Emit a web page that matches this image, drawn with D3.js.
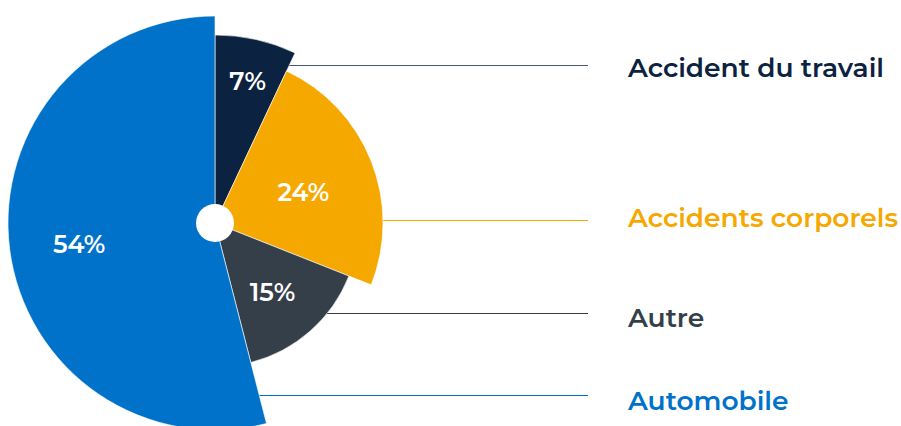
<!DOCTYPE html>
<html>
<head>
<meta charset="utf-8">
<script src="https://cdn.jsdelivr.net/npm/d3@7"></script>
<style>
  body { margin: 0; background: #ffffff; }
  svg { display: block; }
</style>
</head>
<body>
<div id="chart"></div>
<script>
var w = 901
var h = 426

var categories = [ "Accident du travail", "Accidents corporels", "Autre", "Automobile" ];
var values = [ 7, 24, 15, 54 ];
//              Navy       Orange     Grey       Blue
var colors = [ "#0b2240", "#f5a800", "#343f4a", "#0072c9" ];

// layout only
var cx = 215, cy = 223;
var outerR = [ 188, 168, 144, 207 ];
var labelR = [ 149, 95, 87, 137 ];
var lineY = [ 65, 220, 313, 395 ];
var textY = [ 67, 217, 317, 400 ];
var lineEnd = 588, legendX = 628;

var svg = d3.select("#chart").append("svg")
    .attr("width", w)
    .attr("height", h);

var myPie = d3.pie()
    .sort(null)
    .value(function(d) { return d; });

var slices = myPie(values);

// leader lines sit behind the pie
svg.selectAll("line.leader").data(categories).enter()
  .append("line")
    .attr("class", "leader")
    .attr("x1", cx)
    .attr("x2", lineEnd)
    .attr("y1", function(d, i) { return lineY[i] + 0.5; })
    .attr("y2", function(d, i) { return lineY[i] + 0.5; })
    .attr("stroke", function(d, i) { return i == 0 ? "#4a5873" : colors[i]; })
    .attr("stroke-width", 1);

var g = svg.append("g")
    .attr("transform", "translate(" + cx + "," + cy + ")");

var myArc = d3.arc()
    .innerRadius(0)
    .outerRadius(function(d) { return outerR[d.index]; });

g.selectAll("path.slice").data(slices).enter()
  .append("path")
    .attr("class", "slice")
    .attr("fill", function(d, i) { return colors[i]; })
    .attr("stroke", "#ffffff")
    .attr("stroke-width", 0.6)
    .attr("d", myArc);

g.append("circle")
    .attr("r", 19)
    .attr("fill", "#ffffff");

g.selectAll("text.pct").data(slices).enter()
  .append("text")
    .attr("class", "pct")
    .attr("transform", function(d) {
      var a = (d.startAngle + d.endAngle) / 2;
      var r = labelR[d.index];
      return "translate(" + (r * Math.sin(a)) + "," + (-r * Math.cos(a)) + ")";
    })
    .attr("text-anchor", "middle")
    .attr("dy", ".5em")
    .style("fill", "#ffffff")
    .style("font-family", "Montserrat, Inter, 'Open Sans', sans-serif")
    .style("font-weight", 600)
    .style("font-size", "25px")
    .text(function(d) { return d.data + "%"; });

svg.selectAll("text.legend").data(categories).enter()
  .append("text")
    .attr("class", "legend")
    .attr("x", legendX)
    .attr("y", function(d, i) { return textY[i]; })
    .attr("dy", ".36em")
    .style("fill", function(d, i) { return colors[i]; })
    .style("font-family", "Montserrat, Inter, 'Open Sans', sans-serif")
    .style("font-weight", 600)
    .style("font-size", "26.5px")
    .text(function(d) { return d; });
</script>
</body>
</html>
